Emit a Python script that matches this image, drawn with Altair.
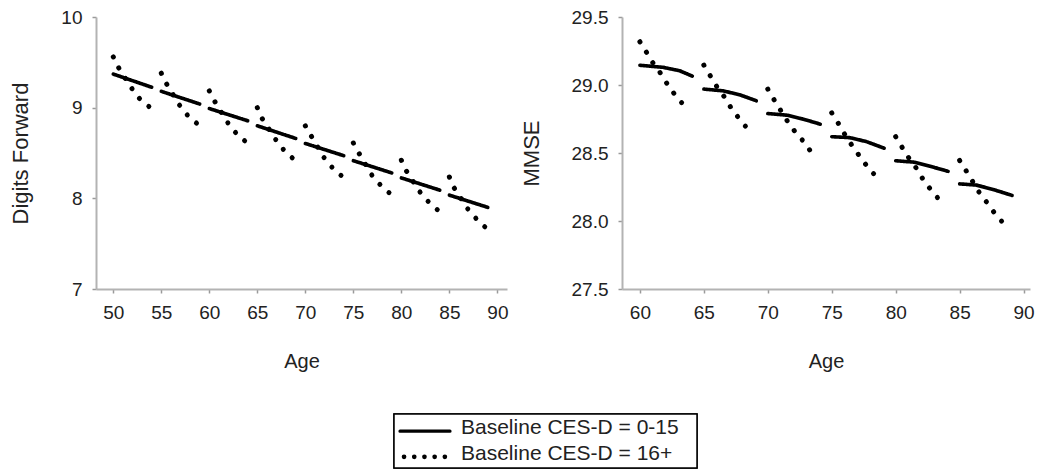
import altair as alt
import pandas as pd

SERIES = ["Baseline CES-D = 0-15", "Baseline CES-D = 16+"]

# ---- Digits Forward panel ----
DF_LOW_AGE = [[50, 54], [55, 59], [60, 64], [65, 69], [70, 74], [75, 79], [80, 84], [85, 89]]
DF_LOW_VAL = [[9.37, 9.225], [9.18, 9.04], [8.99, 8.855], [8.80, 8.66],
              [8.605, 8.47], [8.415, 8.28], [8.225, 8.09], [8.035, 7.90]]
DF_HIGH_AGE = [[50.0, 50.56, 51.88, 52.74, 53.85],
               [55.0, 55.56, 56.88, 57.78, 58.89],
               [60.0, 60.56, 61.88, 62.78, 63.89],
               [65.0, 65.5, 66.9, 67.74, 68.85],
               [70.0, 70.6, 71.9, 72.8, 73.9],
               [75.0, 75.6, 76.9, 77.8, 78.9],
               [80.0, 80.5, 81.9, 82.8, 83.9],
               [85.0, 85.5, 86.9, 87.8, 88.9]]
DF_HIGH_VAL = [[9.56, 9.44, 9.22, 9.10, 9.00],
               [9.38, 9.26, 9.03, 8.91, 8.81],
               [9.185, 9.07, 8.84, 8.72, 8.615],
               [9.00, 8.88, 8.65, 8.535, 8.425],
               [8.80, 8.69, 8.455, 8.34, 8.235],
               [8.61, 8.495, 8.26, 8.15, 8.045],
               [8.42, 8.305, 8.075, 7.965, 7.86],
               [8.235, 8.115, 7.885, 7.775, 7.665]]

# ---- MMSE panel ----
MM_LOW_AGE = [[60, 61.8, 63.1, 64.1], [65, 66.5, 67.8, 69.1], [70, 71.5, 72.8, 74.1],
              [75, 76.4, 77.7, 79.1], [80, 81.4, 82.7, 84.1], [85, 86.3, 87.6, 89.1]]
MM_LOW_VAL = [[29.145, 29.13, 29.105, 29.065], [28.97, 28.957, 28.928, 28.884],
              [28.79, 28.778, 28.748, 28.712], [28.62, 28.613, 28.584, 28.535],
              [28.443, 28.433, 28.402, 28.365], [28.273, 28.264, 28.232, 28.188]]
MM_HIGH_AGE = [[60.0, 60.5, 61.0, 61.6, 62.1, 62.7, 63.4],
               [65.0, 65.5, 66.0, 66.6, 67.1, 67.7, 68.4],
               [70.0, 70.5, 71.0, 71.5, 72.1, 72.8, 73.4],
               [75.0, 75.5, 76.0, 76.5, 77.1, 77.7, 78.4],
               [80.0, 80.5, 81.0, 81.6, 82.1, 82.7, 83.4],
               [85.0, 85.5, 86.0, 86.5, 87.1, 87.7, 88.4]]
MM_HIGH_VAL = [[29.318, 29.243, 29.165, 29.088, 29.013, 28.933, 28.855],
               [29.146, 29.068, 28.99, 28.913, 28.836, 28.76, 28.68],
               [28.97, 28.89, 28.814, 28.739, 28.66, 28.584, 28.506],
               [28.795, 28.72, 28.64, 28.567, 28.487, 28.41, 28.334],
               [28.62, 28.542, 28.467, 28.39, 28.312, 28.235, 28.157],
               [28.445, 28.37, 28.293, 28.215, 28.14, 28.062, 27.985]]

DF_XTICKS = [50, 55, 60, 65, 70, 75, 80, 85, 90]
MM_XTICKS = [60, 65, 70, 75, 80, 85, 90]
DF_YTICKS = [7, 8, 9, 10]
MM_YTICKS = [27.5, 28.0, 28.5, 29.0, 29.5]

FONT = "Liberation Sans"
TXT = "#222222"


def build(low_age, low_val, high_age, high_val):
    rows = []
    for s, (ages, vals) in enumerate([(low_age, low_val), (high_age, high_val)]):
        for i, (a_list, v_list) in enumerate(zip(ages, vals)):
            for a, v in zip(a_list, v_list):
                rows.append({"series": SERIES[s], "seg": f"{s}-{i}", "age": a, "val": v})
    return pd.DataFrame(rows)


def panel(df, ytitle, xdom, ydom, xticks, yticks, yfmt, width, ytitlepad):
    return alt.Chart(df).mark_line(color="black", strokeCap="round", strokeJoin="round").encode(
        x=alt.X("age:Q", scale=alt.Scale(domain=xdom, nice=False, zero=False),
                axis=alt.Axis(values=xticks, title="Age", format="d")),
        y=alt.Y("val:Q", scale=alt.Scale(domain=ydom, nice=False, zero=False),
                axis=alt.Axis(values=yticks, format=yfmt, title=ytitle,
                              titlePadding=ytitlepad, titleFontSize=22)),
        detail="seg:N",
        strokeDash=alt.StrokeDash("series:N", scale=alt.Scale(domain=SERIES, range=[[1, 0], [0.1, 12.2]]),
                                  legend=None),
        strokeWidth=alt.StrokeWidth("series:N", scale=alt.Scale(domain=SERIES, range=[3.6, 5.0]),
                                    legend=None),
    ).properties(width=width, height=272)


left = panel(build(DF_LOW_AGE, DF_LOW_VAL, DF_HIGH_AGE, DF_HIGH_VAL), "Digits Forward",
             [48.2, 91], [7, 10], DF_XTICKS, DF_YTICKS, "d", 411, 28)
right = panel(build(MM_LOW_AGE, MM_LOW_VAL, MM_HIGH_AGE, MM_HIGH_VAL), "MMSE",
              [58.6, 90.5], [27.5, 29.5], MM_XTICKS, MM_YTICKS, ".1f", 408, 28)

# ---- legend (positions relative to the left plot's origin) ----
leg_df = pd.DataFrame({"series": SERIES})
ysc = alt.Y("series:N", axis=None, scale=alt.Scale(type="point", padding=0.55, domain=SERIES))
dash = alt.StrokeDash("series:N", scale=alt.Scale(domain=SERIES, range=[[1, 0], [0.1, 10.1]]), legend=None)
sw = alt.StrokeWidth("series:N", scale=alt.Scale(domain=SERIES, range=[3.2, 4.6]), legend=None)
leg_base = alt.Chart(leg_df)
frame = leg_base.mark_rect(fill="white", stroke="black", strokeWidth=1.5).encode(
    x=alt.value(298), x2=alt.value(601), y=alt.value(0), y2=alt.value(54))
solid = leg_base.transform_filter(alt.datum.series == SERIES[0]).mark_rule(
    color="black", strokeCap="round", yOffset=3).encode(
    x=alt.value(304), x2=alt.value(354), y=ysc, strokeDash=dash, strokeWidth=sw)
dotted = leg_base.transform_filter(alt.datum.series == SERIES[1]).mark_rule(
    color="black", strokeCap="round", yOffset=3).encode(
    x=alt.value(308), x2=alt.value(349), y=ysc, strokeDash=dash, strokeWidth=sw)
labels = leg_base.mark_text(align="left", baseline="middle", font=FONT, fontSize=21, color=TXT).encode(
    x=alt.value(365), y=ysc, text="series:N")
legend = alt.layer(frame, solid, dotted, labels).properties(width=605, height=54)

top = alt.hconcat(left, right, spacing=12).resolve_scale(strokeDash="independent", strokeWidth="independent")
chart = alt.vconcat(top, legend, spacing=42).resolve_scale(
    strokeDash="independent", strokeWidth="independent"
).properties(
    padding={"left": 1, "top": 0, "right": 5, "bottom": 1}
).configure_view(stroke=None).configure_axis(
    grid=False,
    domainColor="#b3b3b3", domainWidth=2,
    tickColor="#9a9a9a", tickSize=4, tickWidth=1.5,
    labelFont=FONT, labelFontSize=19, labelColor=TXT, labelPadding=10,
    titleFont=FONT, titleFontWeight="normal", titleColor=TXT,
).configure_axisX(titleFontSize=20, titlePadding=29)

chart.save("out.html", embed_options={"renderer": "svg", "actions": False})
